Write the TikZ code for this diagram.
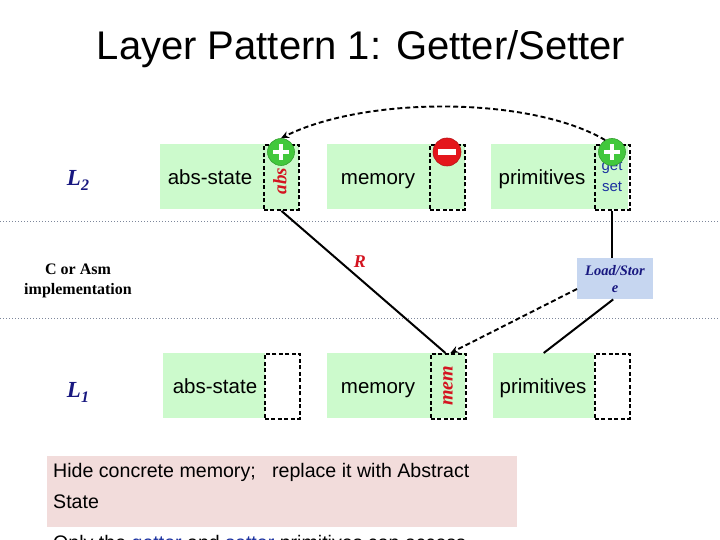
\documentclass[tikz,border=0pt]{standalone}
\usepackage{fontspec}
\setmainfont{Liberation Sans}
\newfontfamily\serifB{Liberation Serif}
\usetikzlibrary{arrows.meta}
\definecolor{lgreen}{RGB}{204,250,204}
\definecolor{pgreen}{RGB}{66,200,60}
\definecolor{mred}{RGB}{228,22,28}
\definecolor{navy}{RGB}{24,24,128}
\definecolor{gsblue}{RGB}{28,50,160}
\definecolor{lsblue}{RGB}{198,214,240}
\definecolor{pinkbg}{RGB}{242,220,219}
\definecolor{dotc}{RGB}{125,135,155}
\definecolor{rred}{RGB}{212,20,32}
\begin{document}
\begin{tikzpicture}[x=1pt,y=-1pt,
  gbox/.style={fill=lgreen,draw=none,anchor=north west,inner sep=0pt,minimum height=65pt},
  dbox/.style={draw,line width=1.9pt,dash pattern=on 4pt off 2.5pt,anchor=north west,inner sep=0pt,minimum width=35pt,minimum height=65pt},
  lbl/.style={font=\fontsize{20.5}{24}\selectfont,inner sep=0pt,anchor=base},
  layer/.style={font=\serifB\bfseries\itshape\fontsize{23}{26}\selectfont,text=navy,inner sep=0pt},
  rot/.style={rotate=90,text=rred,font=\serifB\bfseries\itshape\fontsize{19}{20}\selectfont,inner sep=0pt},
  plusc/.style={circle,fill=pgreen,draw=pgreen!80!black,line width=0.6pt,minimum size=27pt,inner sep=0pt,
    path picture={\fill[white] ([xshift=-8pt,yshift=-2.4pt]path picture bounding box.center) rectangle ([xshift=8pt,yshift=2.4pt]path picture bounding box.center);
                  \fill[white] ([xshift=-2.4pt,yshift=-8pt]path picture bounding box.center) rectangle ([xshift=2.4pt,yshift=8pt]path picture bounding box.center);}},
  minusc/.style={circle,fill=mred,draw=mred!80!black,line width=0.6pt,minimum size=28pt,inner sep=0pt,
    path picture={\fill[white] ([xshift=-9pt,yshift=-2.6pt]path picture bounding box.center) rectangle ([xshift=9pt,yshift=2.6pt]path picture bounding box.center);}},
  dotline/.style={dotc,line width=0.9pt,dash pattern=on 1pt off 2pt},
  conn/.style={line width=2pt},
  dconn/.style={line width=1.9pt,dash pattern=on 5pt off 3pt},
  tip/.style={-{Stealth[length=8pt,width=7pt]}}
]
\clip (0,0) rectangle (720,540);
\useasboundingbox (0,0) rectangle (720,540);
\fill[white] (0,0) rectangle (720,540);

% title
\node[font=\fontsize{40}{48}\selectfont,anchor=base,inner sep=0pt] (title) at (361,60) {Layer Pattern 1: Getter/Setter};

% dotted separators
\coordinate (d1l) at (0,221); \coordinate (d1r) at (720,221);
\coordinate (d2l) at (0,318); \coordinate (d2r) at (720,318);
\draw[dotline] (d1l) -- (d1r);
\draw[dotline] (d2l) -- (d2r);

% layer labels
\node[layer] (L2) at (78,180) {L\raisebox{-5pt}{\fontsize{16}{16}\selectfont 2}};
\node[layer] (L1) at (78,392) {L\raisebox{-5pt}{\fontsize{16}{16}\selectfont 1}};
\node[font=\serifB\bfseries\fontsize{16}{20}\selectfont,align=center,inner sep=0pt] (impl) at (78,281) {C or Asm\\implementation};

% L2 row
\node[gbox,minimum width=137pt] (as2) at (160,144) {};
\node[dbox,fill=lgreen] (abs2) at (263,144) {};
\node[lbl] (as2t) at (210,185) {abs-state};
\node[rot] (abst) at (280,181) {abs};

\node[gbox,minimum width=138pt] (mem2) at (327,144) {};
\node[dbox] (memd2) at (429,144) {};
\node[lbl] (mem2t) at (378,185) {memory};

\node[gbox,minimum width=137pt] (pr2) at (491,144) {};
\node[dbox] (gs) at (594,144) {};
\node[lbl] (pr2t) at (542,185) {primitives};
\node[text=gsblue,font=\fontsize{15}{15}\selectfont,inner sep=0pt,anchor=base] (get) at (612,171) {get};
\node[text=gsblue,font=\fontsize{15}{15}\selectfont,inner sep=0pt,anchor=base] (set) at (612,192) {set};

\node[plusc] (p1) at (281,152) {};
\node[minusc] (m1) at (447,152) {};
\node[plusc] (p2) at (612,152) {};

% L1 row
\node[gbox,minimum width=102pt] (as1) at (163,353) {};
\node[dbox,fill=white] (absd1) at (264,353) {};
\node[lbl] (as1t) at (215,393) {abs-state};

\node[gbox,minimum width=138pt] (mem1) at (327,353) {};
\node[dbox] (memd1) at (430,353) {};
\node[lbl] (mem1t) at (378,393) {memory};
\node[rot,font=\serifB\bfseries\itshape\fontsize{20}{20}\selectfont] (memt) at (448,386) {mem};

\node[gbox,minimum width=101pt] (pr1) at (493,353) {};
\node[dbox,fill=white] (prd1) at (594,353) {};
\node[lbl] (pr1t) at (543,393) {primitives};

% Load/Store
\node[fill=lsblue,minimum width=76pt,minimum height=41pt,anchor=north west,inner sep=0pt] (ls) at (577,258) {};
\node[text=navy,font=\serifB\bfseries\itshape\fontsize{14.5}{16.5}\selectfont,align=center,inner sep=0pt] (lst) at (615,279) {Load/Stor\\e};

% connectors
\draw[dconn,tip] (p2.120) .. controls (530,96) and (365,96) .. (p1.north);
\draw[conn] (abs2.south) -- node[pos=0.36,right=9pt,text=rred,font=\serifB\bfseries\itshape\fontsize{18}{18}\selectfont] (R) {R} ([xshift=-3pt]memd1.north);
\draw[conn] (gs.south) -- (gs.south |- ls.north);
\draw[conn] ([xshift=-2pt]ls.south) -- (pr1.north);
\draw[dconn,tip] (ls.195) -- ([xshift=2pt]memd1.north);

% bottom text
\node[fill=pinkbg,minimum width=470pt,minimum height=71pt,anchor=north west,inner sep=0pt] (note) at (47,456) {};
\node[font=\fontsize{19.6}{24}\selectfont,anchor=base west,inner sep=0pt] (n1) at (53,477) {Hide concrete memory;\ \ \ replace it with Abstract};
\node[font=\fontsize{19.6}{24}\selectfont,anchor=base west,inner sep=0pt] (n2) at (53,508) {State};
\node[font=\fontsize{19.6}{24}\selectfont,anchor=base west,inner sep=0pt] (n3) at (53,549) {Only the \textcolor{gsblue}{getter} and \textcolor{gsblue}{setter} primitives can access};
\end{tikzpicture}
\end{document}
